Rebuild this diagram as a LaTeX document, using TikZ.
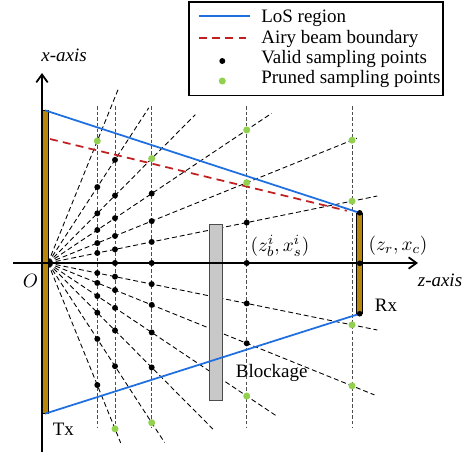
\documentclass[tikz,border=0pt]{standalone}
\usepackage{fontspec}
\setmainfont{Liberation Serif}
\usepackage{xcolor}
\usepackage{tikz}
\usetikzlibrary{arrows.meta}
\definecolor{losblue}{RGB}{31,111,224}
\definecolor{airyred}{RGB}{192,32,32}
\definecolor{prunedgreen}{RGB}{146,208,80}
\definecolor{antgold}{RGB}{184,134,11}
\definecolor{blockgray}{RGB}{200,200,200}

\begin{document}
\begin{tikzpicture}[
  x=0.2cm,y=0.2cm,
  font=\fontsize{10.8pt}{13pt}\selectfont,
  >={Straight Barb[length=4.5pt,width=6.5pt]},
  axisline/.style={->,line width=1pt},
  ray/.style={line width=0.5pt,dash pattern=on 2.8pt off 1.7pt},
  zline/.style={draw=black!70,line width=0.5pt,dash pattern=on 2pt off 1.2pt},
  los/.style={losblue,line width=1pt},
  airy/.style={airyred,line width=1pt,dash pattern=on 4.5pt off 3pt},
  valid/.style={fill=black},
  pruned/.style={fill=prunedgreen},
  antenna/.style={draw,fill=antgold,inner sep=0pt,line width=0.5pt},
  block/.style={draw=black!70,fill=blockgray,inner sep=0pt,line width=0.5pt}
]
  \useasboundingbox (-4.2,-19.3) rectangle (42.8,26.3);

  \foreach \z in {5.53,7.3,10.97,20.47,31.0}
    \draw[zline] (\z,15.7) -- (\z,-16.47);

  \coordinate (src) at (0.6,0);
  \foreach \a/\r in {11.5/33.6,22/33.3,33.8/26.9,45.2/20.9,57/18.5,68/18.7,
                     -11.5/33.6,-22/35.2,-33.8/27.6,-45.2/23.4,-57/21.4,-68/19.4}
    \draw[ray] (src) -- ++(\a:\r);

  \node[block,minimum width=0.268cm,minimum height=3.534cm] (blockage) at (17.4,-4.935) {};

  \node[antenna,minimum width=0.132cm,minimum height=6.05cm] (tx) at (0.3,0.1) {};
  \node[antenna,minimum width=0.12cm,minimum height=2cm] (rx) at (31.77,-0.03) {};

  \draw[los] (tx.north) -- (rx.north);
  \draw[los] (tx.south) -- (rx.south);
  \coordinate (airyA) at (0.8,12.4);
  \coordinate (airyB) at (30.47,5.23);
  \draw[airy] (airyA) -- (airyB);

  \draw[axisline] (-2.9,0) -- (37.6,0);
  \draw[axisline] (0,-18.9) -- (0,19.0);

  \foreach \z/\a in {5.53/57,5.53/45.2,5.53/33.8,5.53/22,5.53/11.5,5.53/-11.5,5.53/-22,
                     5.53/-33.8,5.53/-45.2,5.53/-57,5.53/-68,
                     7.3/57,7.3/45.2,7.3/33.8,7.3/22,7.3/11.5,7.3/0,7.3/-11.5,7.3/-22,
                     7.3/-33.8,7.3/-45.2,7.3/-57,
                     10.97/33.8,10.97/22,10.97/11.5,10.97/0,10.97/-11.5,10.97/-22,
                     10.97/-33.8,10.97/-45.2,
                     20.47/11.5,20.47/0,20.47/-11.5,20.47/-22}
    \fill[valid] (\z,{(\z-0.6)*tan(\a)}) circle (1.7pt);
  \foreach \z/\a in {5.53/68,7.3/-68,10.97/45.2,10.97/-57,20.47/33.8,20.47/22,20.47/-33.8,
                     31.0/22,31.0/11.5,31.0/-11.5,31.0/-22}
    \fill[pruned] (\z,{(\z-0.6)*tan(\a)}) circle (2pt);
  \fill[valid] (rx.north) circle (1.6pt);
  \fill[valid] (rx.center) circle (1.6pt);
  \fill[valid] (rx.south) circle (1.6pt);

  \node (xlab) at (2.2,20.8) {\textit{x-axis}};
  \node (zlab) at (39.8,-1.7) {\textit{z-axis}};
  \node (olab) at (-1.15,-1.75) {$O$};
  \node (txlab) at (2.13,-16.63) {Tx};
  \node (rxlab) at (34.4,-4.2) {Rx};
  \node (rxpos) at (35.6,1.7) {$(z_r,x_c)$};
  \node (blkpos) at (23.8,1.7) {$(z_b^i,x_s^i)$};
  \node (blklab) at (22.97,-11.03) {Blockage};

  \node[draw,line width=0.6pt,minimum width=5.08cm,minimum height=1.874cm] (legend) at (27.4,21.415) {};
  \draw[los] (15.7,24.7) -- (20.8,24.7);
  \draw[airy] (15.7,22.53) -- (20.8,22.53);
  \fill[valid] (18.03,20.2) circle (1.7pt);
  \fill[pruned] (18.03,18.2) circle (2pt);
  \node[anchor=base west,inner sep=0pt] (leglos) at (21.9,24.03) {LoS region};
  \node[anchor=base west,inner sep=0pt] (legairy) at (21.9,22.0) {Airy beam boundary};
  \node[anchor=base west,inner sep=0pt] (legvalid) at (21.9,19.97) {Valid sampling points};
  \node[anchor=base west,inner sep=0pt] (legpruned) at (21.9,17.94) {Pruned sampling points};
\end{tikzpicture}
\end{document}
